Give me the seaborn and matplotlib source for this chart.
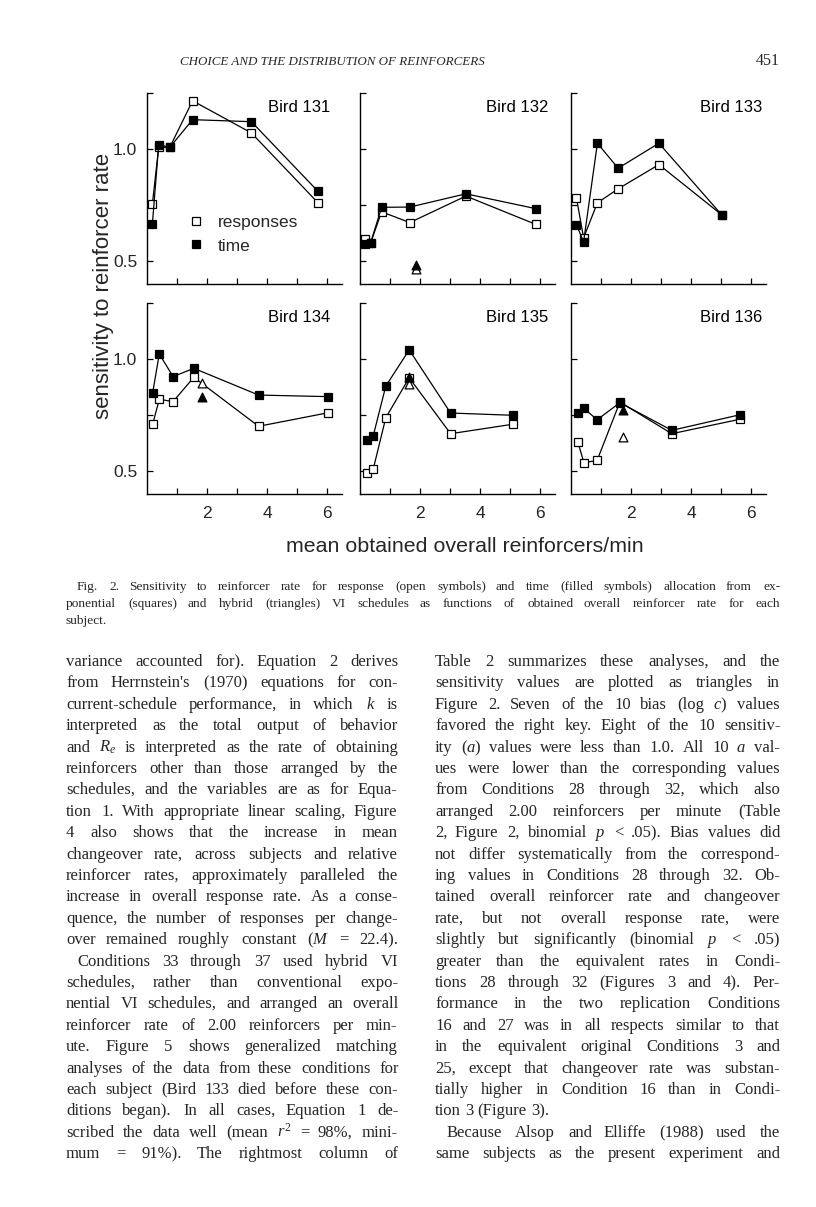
import matplotlib
matplotlib.use("Agg")
import matplotlib.pyplot as plt
from matplotlib.lines import Line2D
from matplotlib.font_manager import FontProperties
from matplotlib.backends.backend_agg import get_hinting_flag
import seaborn as sns

# ---- data (x = obtained reinforcers/min) ----
birds = ["Bird 131", "Bird 132", "Bird 133", "Bird 134", "Bird 135", "Bird 136"]

x_131 = [0.18, 0.39, 0.76, 1.52, 3.48, 5.70]
resp_131 = [0.756, 1.007, 1.007, 1.214, 1.071, 0.760]
time_131 = [0.667, 1.018, 1.007, 1.130, 1.121, 0.811]

x_132 = [0.15, 0.35, 0.72, 1.66, 3.53, 5.86]
resp_132 = [0.600, 0.580, 0.720, 0.672, 0.790, 0.664]
time_132 = [0.575, 0.580, 0.740, 0.741, 0.800, 0.734]

x_133 = [0.18, 0.42, 0.88, 1.57, 2.93, 5.02]
resp_133 = [0.783, 0.604, 0.760, 0.822, 0.930, 0.707]
time_133 = [0.663, 0.586, 1.025, 0.914, 1.025, 0.707]

x_134 = [0.19, 0.41, 0.87, 1.56, 3.72, 6.03]
resp_134 = [0.710, 0.820, 0.810, 0.918, 0.700, 0.760]
time_134 = [0.850, 1.022, 0.921, 0.958, 0.839, 0.832]

x_135 = [0.23, 0.44, 0.86, 1.64, 3.02, 5.09]
resp_135 = [0.490, 0.509, 0.738, 0.916, 0.667, 0.709]
time_135 = [0.638, 0.657, 0.879, 1.040, 0.759, 0.749]

x_136 = [0.23, 0.43, 0.87, 1.63, 3.36, 5.62]
resp_136 = [0.630, 0.538, 0.548, 0.808, 0.667, 0.731]
time_136 = [0.759, 0.780, 0.729, 0.805, 0.682, 0.751]

# hybrid VI (triangles); Bird 131 and 133 have none
tri_x = [None, 1.85, None, 1.84, 1.64, 1.72]
tri_resp = [None, 0.464, None, 0.894, 0.886, 0.652]
tri_time = [None, 0.482, None, 0.832, 0.919, 0.774]

xs = [x_131, x_132, x_133, x_134, x_135, x_136]
resps = [resp_131, resp_132, resp_133, resp_134, resp_135, resp_136]
times = [time_131, time_132, time_133, time_134, time_135, time_136]

y_ticks = [0.5, 0.75, 1.0, 1.25]
y_ticklabels = ["0.5", "", "1.0", ""]
x_ticks = [1, 2, 3, 4, 5, 6]
x_ticklabels = ["", "2", "", "4", "", "6"]

# ---- page text ----
header = "CHOICE AND THE DISTRIBUTION OF REINFORCERS"
page_no = "451"
caption = [
    "Fig. 2.  Sensitivity to reinforcer rate for response (open symbols) and time (filled symbols) allocation from ex-",
    "ponential (squares) and hybrid (triangles) VI schedules as functions of obtained overall reinforcer rate for each",
    "subject.",
]
left_col = [
    "variance accounted for). Equation 2 derives",
    "from Herrnstein's (1970) equations for con-",
    "current-schedule performance, in which $k$ is",
    "interpreted as the total output of behavior",
    "and $R_e$ is interpreted as the rate of obtaining",
    "reinforcers other than those arranged by the",
    "schedules, and the variables are as for Equa-",
    "tion 1. With appropriate linear scaling, Figure",
    "4 also shows that the increase in mean",
    "changeover rate, across subjects and relative",
    "reinforcer rates, approximately paralleled the",
    "increase in overall response rate. As a conse-",
    "quence, the number of responses per change-",
    "over remained roughly constant ($M$ = 22.4).",
    "Conditions 33 through 37 used hybrid VI",
    "schedules, rather than conventional expo-",
    "nential VI schedules, and arranged an overall",
    "reinforcer rate of 2.00 reinforcers per min-",
    "ute. Figure 5 shows generalized matching",
    "analyses of the data from these conditions for",
    "each subject (Bird 133 died before these con-",
    "ditions began). In all cases, Equation 1 de-",
    "scribed the data well (mean $r^2$ = 98%, mini-",
    "mum = 91%). The rightmost column of",
]
right_col = [
    "Table 2 summarizes these analyses, and the",
    "sensitivity values are plotted as triangles in",
    "Figure 2. Seven of the 10 bias (log $c$) values",
    "favored the right key. Eight of the 10 sensitiv-",
    "ity ($a$) values were less than 1.0. All 10 $a$ val-",
    "ues were lower than the corresponding values",
    "from Conditions 28 through 32, which also",
    "arranged 2.00 reinforcers per minute (Table",
    "2, Figure 2, binomial $p$ < .05). Bias values did",
    "not differ systematically from the correspond-",
    "ing values in Conditions 28 through 32. Ob-",
    "tained overall reinforcer rate and changeover",
    "rate, but not overall response rate, were",
    "slightly but significantly (binomial $p$ < .05)",
    "greater than the equivalent rates in Condi-",
    "tions 28 through 32 (Figures 3 and 4). Per-",
    "formance in the two replication Conditions",
    "16 and 27 was in all respects similar to that",
    "in the equivalent original Conditions 3 and",
    "25, except that changeover rate was substan-",
    "tially higher in Condition 16 than in Condi-",
    "tion 3 (Figure 3).",
    "Because Alsop and Elliffe (1988) used the",
    "same subjects as the present experiment and",
]
left_indent = {14}
right_indent = {22}
right_ragged = {21}

sns.set_style("ticks", {"xtick.direction": "in", "ytick.direction": "in"})
plt.rcParams["font.family"] = ["Liberation Sans", "DejaVu Sans"]
plt.rcParams["mathtext.fontset"] = "custom"
plt.rcParams["mathtext.it"] = "Liberation Serif:italic"
plt.rcParams["mathtext.rm"] = "Liberation Serif"

W, H = 816, 1207
fig = plt.figure(figsize=(W / 100, H / 100), dpi=100)
fig.patch.set_facecolor("white")

col_left = [147, 360, 571]
row_top = [92.7, 302.7]
ax_w, ax_h = 195, 191
label_x = [0.94, 0.965, 0.98]

for i, name in enumerate(birds):
    r, c = divmod(i, 3)
    ax = fig.add_axes([col_left[c] / W, 1 - (row_top[r] + ax_h) / H, ax_w / W, ax_h / H])
    ax.set_facecolor("white")
    sns.lineplot(x=xs[i], y=resps[i], ax=ax, color="k", lw=0.9, marker="s",
                 markersize=5.6, markerfacecolor="white", markeredgecolor="k",
                 markeredgewidth=0.9, sort=False, zorder=2)
    sns.lineplot(x=xs[i], y=times[i], ax=ax, color="k", lw=0.9, marker="s",
                 markersize=5.6, markerfacecolor="k", markeredgecolor="k",
                 markeredgewidth=0.9, sort=False, zorder=3)
    if tri_x[i] is not None:
        sns.scatterplot(x=[tri_x[i]], y=[tri_resp[i]], ax=ax, marker="^", s=40,
                        facecolor="white", edgecolor="k", linewidth=0.9, zorder=4)
        sns.scatterplot(x=[tri_x[i]], y=[tri_time[i]], ax=ax, marker="^", s=40,
                        color="k", edgecolor="k", linewidth=0.9, zorder=4)
    ax.set_xlim(0, 6.5)
    ax.set_ylim(0.4, 1.25)
    ax.set_yticks(y_ticks)
    ax.set_xticks(x_ticks)
    ax.set_yticklabels(y_ticklabels if c == 0 else [])
    ax.set_xticklabels(x_ticklabels if r == 1 else [])
    ax.tick_params(length=4, width=0.9, labelsize=12.5, pad=7, color="k")
    ax.tick_params(axis="x", pad=9)
    ax.set_xlabel("")
    ax.set_ylabel("")
    sns.despine(ax=ax)
    for s in ["left", "bottom"]:
        ax.spines[s].set_linewidth(1.0)
        ax.spines[s].set_color("k")
    ax.text(label_x[c], 0.925, name, transform=ax.transAxes, ha="right", va="center",
            fontsize=12, color="k")
    if i == 0:
        handles = [
            Line2D([], [], ls="none", marker="s", markersize=5.6, markerfacecolor="white",
                   markeredgecolor="k", markeredgewidth=0.9),
            Line2D([], [], ls="none", marker="s", markersize=5.6, markerfacecolor="k",
                   markeredgecolor="k", markeredgewidth=0.9),
        ]
        ax.legend(handles, ["responses", "time"], loc="center left",
                  bbox_to_anchor=(0.205, 0.26), frameon=False, fontsize=12.5,
                  handlelength=1.0, handletextpad=0.8, labelspacing=0.5,
                  borderpad=0, borderaxespad=0)

fig.text(104 / W, 1 - 286 / H, "sensitivity to reinforcer rate", rotation=90,
         ha="center", va="center", fontsize=16)
fig.text(465 / W, 1 - 547 / H, "mean obtained overall reinforcers/min",
         ha="center", va="center", fontsize=15.4)

# ---- page text ----
renderer = fig.canvas.get_renderer()
serif = ["Liberation Serif", "DejaVu Serif"]


def baseline_error(word, size, y):
    # Agg snaps each word bitmap to whole pixels; work out how far the drawn
    # baseline lands from the requested one so words in a line stay level
    if "$" in word:
        return 0
    font = renderer._prepare_font(FontProperties(family=serif, size=size))
    font.set_text(word, 0, flags=get_hinting_flag())
    h = font.get_width_height()[1]
    dsc = font.get_descent()
    yo = font.get_bitmap_offset()[1] / 64
    return round(y + yo + dsc / 64) - y - h // 64 + int((h - dsc) / 64)


def put_line(text, x0, x1, y, size, justify):
    # one text per word, spread to fill the column when justified
    words = text.split()
    arts = [fig.text(0, 0, w, ha="left", va="baseline", fontsize=size,
                     family=serif) for w in words]
    widths = [a.get_window_extent(renderer).width for a in arts]
    if justify:
        gap = (x1 - x0 - sum(widths)) / max(len(words) - 1, 1)
    else:
        gap = size * 100 / 72 * 0.25
    x = x0
    yy = round(y)
    for a, w, word in zip(arts, widths, words):
        yw = yy - baseline_error(word, size, yy)
        a.set_position((round(x) / W, 1 - yw / H))
        x += w + gap


fig.text(332 / W, 1 - 65 / H, header, ha="center", va="baseline", fontsize=9.4,
         family=serif, style="italic")
fig.text(780 / W, 1 - 65 / H, page_no, ha="right", va="baseline", fontsize=11.5,
         family=serif)

cap_y = [590, 607, 624]
put_line(caption[0], 77, 780, cap_y[0], 9.6, True)
put_line(caption[1], 66, 780, cap_y[1], 9.6, True)
put_line(caption[2], 66, 780, cap_y[2], 9.6, False)

line_h = 21.4
for k, line in enumerate(left_col):
    x0 = 77 if k in left_indent else 66
    put_line(line, x0, 398, 666 + k * line_h, 12, True)
for k, line in enumerate(right_col):
    x0 = 447 if k in right_indent else 435
    put_line(line, x0, 780, 666 + k * line_h, 12, k not in right_ragged)

fig.savefig("out.png", dpi=100, facecolor="white")
